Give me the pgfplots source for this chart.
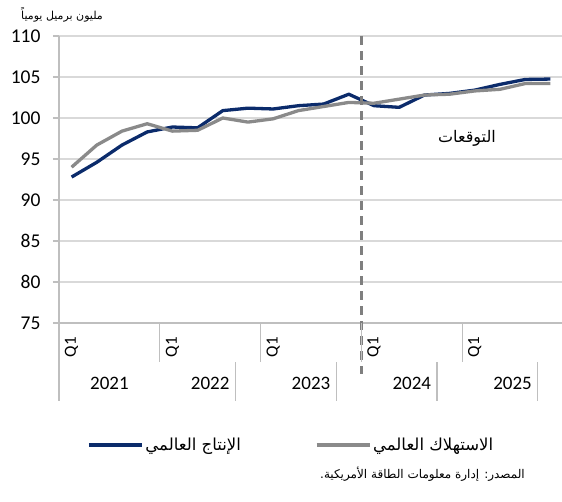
\documentclass[border=0pt]{standalone}
\usepackage{fontspec}
\usepackage{pgfplots}
\pgfplotsset{compat=1.18}
\setmainfont{Carlito}
\newfontfamily\arabicfont[Script=Arabic]{DejaVu Sans}
\TeXXeTstate=1
\definecolor{navy}{HTML}{0B2B6B}
\definecolor{cgray}{HTML}{8A8A8A}
\definecolor{axisgray}{HTML}{BFBFBF}
\definecolor{gridgray}{HTML}{D9D9D9}
\definecolor{dashgray}{HTML}{7F7F7F}
\begin{document}
\begin{tikzpicture}
\path[use as bounding box] (0pt,0pt) rectangle (562pt,-502pt);
\begin{axis}[
  at={(59pt,-323pt)}, anchor=south west,
  scale only axis, width=504pt, height=287pt,
  xmin=-0.5, xmax=19.5, ymin=75, ymax=110,
  ytick={75,80,...,110},
  xtick=\empty,
  axis lines=left,
  axis line style={-, draw=axisgray, line width=1.3pt},
  ymajorgrids,
  grid style={draw=gridgray, line width=1.3pt},
  y tick style={draw=axisgray, line width=1.3pt},
  tick align=outside, major tick length=6pt,
  yticklabel style={font=\fontsize{19.5}{21}\selectfont, text=black, anchor=east, xshift=-9pt},
  /pgf/number format/assume math mode=true,
  clip=false,
  legend columns=2,
  legend style={at={(axis cs:0.61,60.12)}, anchor=west, draw=none, fill=none,
    inner sep=0pt, font=\arabicfont\fontsize{16.5}{18}\selectfont,
    /tikz/every even column/.append style={column sep=72pt}},
  legend image code/.code={\draw[#1] (0pt,0pt) -- (53pt,0pt);},
]
\addplot[navy, line width=3.3pt, line join=round] coordinates {
(0,92.8) (1,94.6) (2,96.7) (3,98.3) (4,98.9) (5,98.8) (6,100.9) (7,101.2)
(8,101.1) (9,101.5) (10,101.7) (11,102.9) (12,101.5) (13,101.3) (14,102.8)
(15,103.0) (16,103.4) (17,104.1) (18,104.7) (19,104.75)};
\addlegendentry{\beginR الإنتاج العالمي\endR}
\addplot[cgray, line width=3.3pt, line join=round] coordinates {
(0,94.0) (1,96.7) (2,98.4) (3,99.3) (4,98.4) (5,98.5) (6,100.0) (7,99.5)
(8,99.9) (9,100.9) (10,101.4) (11,101.9) (12,101.8) (13,102.3) (14,102.8)
(15,102.9) (16,103.3) (17,103.5) (18,104.2) (19,104.2)};
\addlegendentry{\beginR الاستهلاك العالمي\endR}
% forecast divider
\draw[dashgray, line width=2.5pt, dash pattern=on 9pt off 6pt] (axis cs:11.5,110) -- (axis cs:11.5,68.8);
% category axis decorations
\draw[axisgray, line width=1.3pt] (axis cs:-0.5,75) -- (axis cs:-0.5,65.49);
\pgfplotsinvokeforeach{3.5,7.5,11.5,15.5}{
  \draw[axisgray, line width=1.3pt] (axis cs:#1,75) -- (axis cs:#1,70.24);
}
\pgfplotsinvokeforeach{6.5,10.5,14.5,18.5}{
  \draw[axisgray, line width=1.3pt] (axis cs:#1,70.24) -- (axis cs:#1,65.49);
}
\pgfplotsinvokeforeach{0,4,8,12,16}{
  \node[rotate=90, anchor=east, inner sep=0pt, font=\fontsize{17}{19}\selectfont] at (axis cs:#1,73.29) {Q1};
}
\node[font=\fontsize{19}{21}\selectfont] at (axis cs:1.5,67.68) {2021};
\node[font=\fontsize{19}{21}\selectfont] at (axis cs:5.5,67.68) {2022};
\node[font=\fontsize{19}{21}\selectfont] at (axis cs:9.5,67.68) {2023};
\node[font=\fontsize{19}{21}\selectfont] at (axis cs:13.5,67.68) {2024};
\node[font=\fontsize{19}{21}\selectfont] at (axis cs:17.5,67.68) {2025};
\end{axis}
\node[anchor=east, inner sep=0pt, font=\arabicfont\fontsize{11}{13}\selectfont] at (103pt,-15pt) {\beginR مليون برميل يومياً\endR};
\node[font=\arabicfont\fontsize{16}{18}\selectfont] at (467pt,-138pt) {\beginR التوقعات\endR};
\node[anchor=east, inner sep=0pt, font=\arabicfont\fontsize{12}{14}\selectfont] at (525pt,-474pt) {\beginR المصدر: إدارة معلومات الطاقة الأمريكية.\endR};
\end{tikzpicture}
\end{document}
